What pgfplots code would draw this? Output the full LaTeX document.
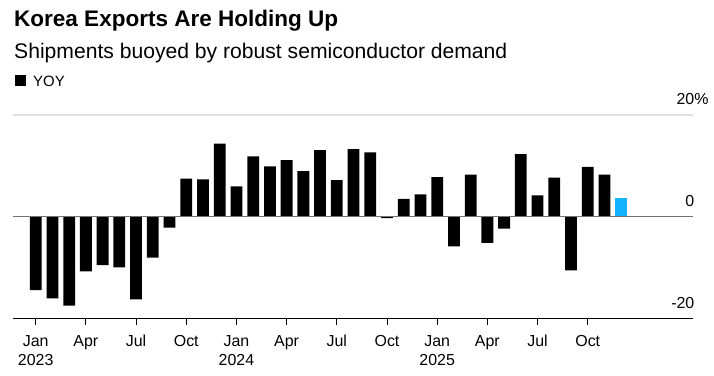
\documentclass[border=0pt]{standalone}
\usepackage{fontspec}
\setmainfont{Liberation Sans}
\usepackage{pgfplots}
\pgfplotsset{compat=1.18}
\definecolor{barblue}{RGB}{18,178,255}
\begin{document}
\begin{tikzpicture}[x=1bp,y=1bp]
\useasboundingbox (0,0) rectangle (714,375);
\node[anchor=base west, inner sep=0] at (14,348.3) {\fontsize{22.6}{26}\selectfont\bfseries Korea Exports Are Holding Up};
\node[anchor=base west, inner sep=0] at (14,316.7) {\fontsize{21.2}{24}\selectfont Shipments buoyed by robust semiconductor demand};
\fill (15,289) rectangle (26,300);
\node[anchor=base west, inner sep=0] at (33,289) {\fontsize{15}{18}\selectfont YOY};
\begin{axis}[
  at={(13.3bp,56.3bp)}, anchor=south west, scale only axis,
  width=680bp, height=203.7bp,
  xmin=-1.339, xmax=39.31, ymin=-20, ymax=20,
  axis x line*=bottom, axis y line*=right,
  y axis line style={draw=none},
  x axis line style={black, line width=1bp},
  ytick={-20,0,20}, yticklabels={-20,0,20\rlap{\%}},
  ytick style={draw=none},
  ymajorgrids, grid style={color=black!12, line width=1.2bp},
  xtick={0,3,...,33},
  xticklabels={Jan\\2023,Apr,Jul,Oct,Jan\\2024,Apr,Jul,Oct,Jan\\2025,Apr,Jul,Oct},
  tick align=outside, major tick length=6.7bp,
  xtick style={black, line width=1bp},
  xticklabel style={align=center, anchor=north, inner sep=0pt, yshift=-9.6bp, font=\fontsize{16}{19.7}\selectfont},
  yticklabel style={anchor=base east, inner sep=0pt, xshift=-5.5bp, yshift=10bp, font=\fontsize{16}{19}\selectfont},
  ybar, bar width=11.8bp,
  clip=false,
]
\addplot[ybar, bar shift=0pt, fill=black, draw=none] coordinates {
(0,-14.4) (1,-16.0) (2,-17.45) (3,-10.7) (4,-9.5) (5,-9.9) (6,-16.2) (7,-8.0) (8,-2.1)
(9,7.5) (10,7.35) (11,14.4) (12,6.0) (13,11.9) (14,9.9) (15,11.15) (16,9.0) (17,13.1)
(18,7.2) (19,13.3) (20,12.65) (21,-0.25) (22,3.55) (23,4.4) (24,7.8) (25,-5.8) (26,8.3)
(27,-5.1) (28,-2.3) (29,12.3) (30,4.2) (31,7.7) (32,-10.5) (33,9.8) (34,8.3)
};
\addplot[ybar, bar shift=0pt, fill=barblue, draw=none] coordinates {(35,3.7)};
\addplot[sharp plot, no marks, color=black!55, line width=1bp] coordinates {(-1.339,0) (39.31,0)};
\end{axis}
\end{tikzpicture}
\end{document}
